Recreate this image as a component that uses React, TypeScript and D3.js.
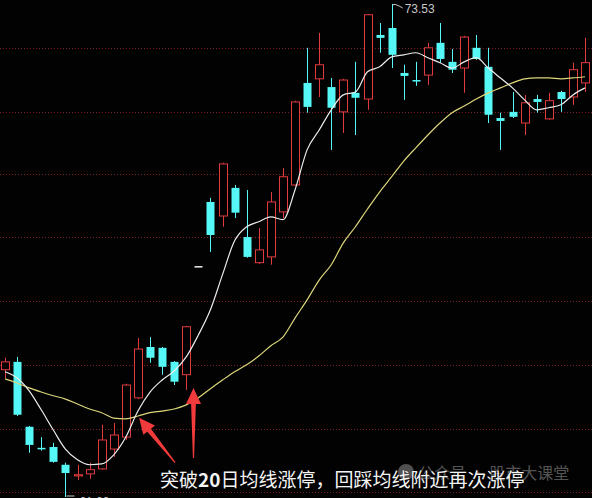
import React from "react";
import * as d3 from "d3";

// ---- data (prices) ----
const opens = [64.68, 64.87, 63.30, 62.79, 62.81, 62.38, 62.11, 62.16, 62.28, 62.76, 63.05, 64.00, 65.23, 65.21, 64.87, 64.56, 67.17, 68.74, 68.40, 69.08, 67.89, 67.27, 67.41, 68.50, 69.15, 71.62, 71.72, 71.52, 70.92, 71.38, 71.23, 72.78, 72.95, 71.86, 71.69, 71.81, 72.59, 72.13, 71.98, 72.47, 72.01, 70.77, 70.92, 70.65, 71.23, 70.75, 71.40, 71.28, 71.62];
const highs = [64.97, 64.99, 63.32, 63.05, 62.91, 62.43, 62.38, 62.43, 63.35, 63.39, 64.34, 65.45, 65.47, 65.23, 64.89, 65.74, 67.17, 68.84, 69.69, 69.15, 69.03, 68.11, 68.98, 69.56, 71.19, 72.47, 72.83, 71.74, 71.72, 72.13, 73.29, 73.07, 73.53, 72.06, 72.13, 72.59, 73.07, 72.44, 72.76, 72.78, 72.47, 70.90, 71.40, 71.33, 71.33, 71.38, 71.43, 72.11, 72.71];
const lows = [64.48, 63.56, 62.67, 62.72, 62.43, 61.60, 62.01, 62.04, 62.26, 62.57, 62.98, 63.97, 64.85, 64.56, 64.31, 64.19, 67.17, 67.53, 68.14, 68.35, 67.39, 67.24, 67.22, 68.35, 69.13, 70.90, 71.28, 70.00, 70.41, 70.36, 70.97, 72.35, 71.98, 71.21, 71.55, 71.57, 72.11, 71.86, 71.38, 72.18, 70.65, 70.00, 70.77, 70.36, 70.90, 70.73, 70.92, 71.09, 71.40];
const closes = [64.87, 63.59, 62.86, 62.76, 62.45, 62.18, 62.14, 62.26, 62.98, 63.10, 64.31, 65.18, 64.97, 64.75, 64.39, 65.72, 67.17, 67.94, 69.66, 68.48, 67.41, 67.58, 68.74, 69.35, 71.16, 71.04, 72.06, 71.02, 71.69, 71.26, 73.27, 72.71, 72.30, 71.79, 71.67, 72.47, 72.20, 71.94, 72.73, 72.20, 70.85, 70.70, 70.80, 71.14, 71.16, 71.19, 71.23, 71.94, 72.11];
const ma5 = [64.63, 64.48, 64.17, 63.71, 63.22, 62.76, 62.50, 62.38, 62.40, 62.62, 63.05, 63.68, 64.14, 64.43, 64.65, 64.99, 65.52, 66.13, 66.98, 67.80, 68.14, 68.26, 68.38, 68.31, 69.03, 70.00, 70.48, 70.97, 71.33, 71.40, 71.89, 72.01, 72.25, 72.30, 72.35, 72.23, 72.11, 71.98, 72.13, 72.23, 71.98, 71.74, 71.50, 71.21, 70.97, 71.02, 71.09, 71.33, 71.50];
const ma20 = [64.46, 64.36, 64.24, 64.14, 64.05, 63.97, 63.85, 63.73, 63.64, 63.51, 63.49, 63.56, 63.64, 63.68, 63.73, 63.83, 64.00, 64.22, 64.43, 64.63, 64.80, 65.01, 65.26, 65.47, 65.93, 66.37, 66.85, 67.22, 67.75, 68.14, 68.57, 68.98, 69.35, 69.73, 70.05, 70.36, 70.65, 70.90, 71.06, 71.23, 71.38, 71.50, 71.62, 71.72, 71.74, 71.74, 71.72, 71.74, 71.77];
const gridPrices = [72.47, 70.92, 69.42, 67.89, 66.35, 64.80, 63.25, 61.72];
const highLabel = "73.53";
const lowLabel = "61.60";
const captionA = "突破";
const captionB = "20";
const captionC = "日均线涨停，回踩均线附近再次涨停";
const watermark = "公众号 · 股市大课堂";
// annotation arrows: tip (candle index, price) and tail offset in px
const arrows = [
  { i: 11.1, p: 63.52, dx: 36, dy: 45 },
  { i: 15.6, p: 64.24, dx: 0, dy: 70 },
];

const W = 592;
const H = 498;
const UP = "#e23b3e";
const DOWN = "#55f8f6";

function arrowPath(tx: number, ty: number, ex: number, ey: number) {
  const vx = tx - ex, vy = ty - ey;
  const len = Math.hypot(vx, vy);
  const ux = vx / len, uy = vy / len;
  const nx = -uy, ny = ux;
  const hl = 16, hw = 7.5, sw = 2.4, tw = 0.6;
  const bx = tx - ux * hl, by = ty - uy * hl;
  const pts = [
    [tx, ty],
    [bx + nx * hw, by + ny * hw],
    [bx + nx * sw, by + ny * sw],
    [ex + nx * tw, ey + ny * tw],
    [ex - nx * tw, ey - ny * tw],
    [bx - nx * sw, by - ny * sw],
    [bx - nx * hw, by - ny * hw],
  ];
  return "M" + pts.map((p) => p.join(",")).join("L") + "Z";
}

export default function App() {
  const n = opens.length;
  const x = d3.scaleLinear().domain([0, n - 1]).range([5, 585]);
  const y = d3.scaleLinear().domain([61.6, 73.53]).range([497, 4]);
  const bw = 8;
  const line = d3
    .line<number>()
    .x((_, i) => x(i))
    .y((d) => y(d))
    .curve(d3.curveMonotoneX);

  const hiIdx = highs.indexOf(d3.max(highs) as number);
  const loIdx = lows.indexOf(d3.min(lows) as number);

  return (
    <div style={{ position: "absolute", left: 0, top: 0, width: W, height: H, background: "#000" }}>
      <svg width={W} height={H} style={{ display: "block", background: "#000" }}>
        <rect x={0} y={0} width={W} height={H} fill="#020202" />
        {gridPrices.map((g, k) => (
          <line
            key={k}
            x1={0}
            x2={W}
            y1={Math.round(y(g)) + 0.5}
            y2={Math.round(y(g)) + 0.5}
            stroke="#7a1e28"
            strokeWidth={1}
            strokeDasharray="1,2"
          />
        ))}
        {opens.map((o, i) => {
          const c = closes[i];
          const cx = Math.round(x(i)) + 0.5;
          const top = y(Math.max(o, c));
          const bot = y(Math.min(o, c));
          const hgt = Math.max(1, bot - top);
          if (highs[i] === lows[i]) {
            return (
              <line key={i} x1={cx - 4} x2={cx + 4} y1={y(c)} y2={y(c)} stroke="#f0f0f0" strokeWidth={1.5} />
            );
          }
          if (c > o) {
            return (
              <g key={i}>
                <line x1={cx} x2={cx} y1={y(highs[i])} y2={top} stroke={UP} strokeWidth={1} />
                <line x1={cx} x2={cx} y1={bot} y2={y(lows[i])} stroke={UP} strokeWidth={1} />
                <rect x={cx - bw / 2} y={top} width={bw} height={hgt} fill="#000" stroke={UP} strokeWidth={1} />
              </g>
            );
          }
          return (
            <g key={i}>
              <line x1={cx} x2={cx} y1={y(highs[i])} y2={y(lows[i])} stroke={DOWN} strokeWidth={1} />
              <rect x={cx - bw / 2} y={top} width={bw} height={Math.max(1.5, hgt)} fill={DOWN} />
            </g>
          );
        })}
        <path d={line(ma20) || ""} fill="none" stroke="#dcd67a" strokeWidth={1.2} />
        <path d={line(ma5) || ""} fill="none" stroke="#ececec" strokeWidth={1.2} />

        {/* high / low labels */}
        <path
          d={`M${x(hiIdx) + 1},${y(highs[hiIdx]) + 1}Q${x(hiIdx) + 3},${y(highs[hiIdx]) - 1} ${x(hiIdx) + 11},${y(highs[hiIdx]) + 4}`}
          fill="none"
          stroke="#c8c8c8"
          strokeWidth={1}
        />
        <text x={x(hiIdx) + 13} y={y(highs[hiIdx]) + 9} fill="#c8c8c8" fontSize={12} fontFamily="Liberation Sans, Arial, sans-serif">
          {highLabel}
        </text>
        <line x1={x(loIdx) + 1} x2={x(loIdx) + 9} y1={y(lows[loIdx]) - 1} y2={y(lows[loIdx]) - 1} stroke="#c8c8c8" strokeWidth={1} />
        <text x={x(loIdx) + 14} y={y(lows[loIdx]) + 9} fill="#c8c8c8" fontSize={12} fontFamily="Liberation Sans, Arial, sans-serif">
          {lowLabel}
        </text>

        {/* arrows */}
        {arrows.map((a, k) => {
          const tx = x(a.i), ty = y(a.p);
          return <path key={k} d={arrowPath(tx, ty, tx + a.dx, ty + a.dy)} fill="#f03a3c" />;
        })}

        {/* watermark */}
        <g opacity={0.38}>
          <circle cx={406} cy={472} r={8} fill="#d0d0d0" />
          <text x={418} y={479} fill="#d8d8d8" fontSize={16} fontFamily="Noto Sans CJK SC, sans-serif">
            {watermark}
          </text>
        </g>

        {/* caption */}
        <text x={160} y={487} fill="#f4f4f4" fontSize={19} fontFamily="Noto Sans CJK SC, sans-serif" stroke="#000" strokeWidth={0.3} paintOrder="stroke">
          <tspan>{captionA}</tspan>
          <tspan fontWeight="bold">{captionB}</tspan>
          <tspan>{captionC}</tspan>
        </text>
      </svg>
    </div>
  );
}
